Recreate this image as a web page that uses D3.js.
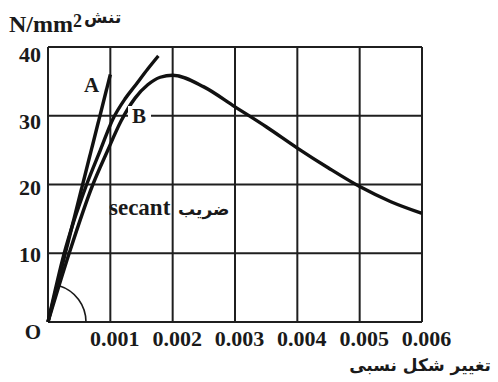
<!DOCTYPE html>
<html>
<head>
<meta charset="utf-8">
<script src="https://cdn.jsdelivr.net/npm/d3@7"></script>
<style>
  html, body { margin: 0; padding: 0; background: #fff; }
  svg { display: block; }
  .lat { font-family: "Liberation Serif", "Times New Roman", serif; font-weight: bold; fill: #1a1a1a; }
  .fa { font-family: "DejaVu Sans", sans-serif; font-weight: bold; fill: #1a1a1a; }
</style>
</head>
<body>
<script>
// Stress–strain diagram: initial tangent (A), secant curve (B) and the full curve.
const xTickValues = [0.001, 0.002, 0.003, 0.004, 0.005, 0.006];
const xTickLabels = ["0.001", "0.002", "0.003", "0.004", "0.005", "0.006"];
const yTickValues = [10, 20, 30, 40];
const yTickLabels = ["10", "20", "30", "40"];

// line A: initial tangent
const aStrain = [0, 0.001];
const aStress = [0, 36];

// upper curve
const upperStrain = [0, 0.00026, 0.00062, 0.00084, 0.00104, 0.00124, 0.0014, 0.0016, 0.00177];
const upperStress = [0, 10, 20, 25, 29.5, 32.5, 34.4, 36.8, 38.7];

// full stress–strain curve
const mainStrain = [0, 0.00034, 0.00072, 0.00095, 0.00117, 0.0014, 0.0016, 0.0018, 0.002,
                    0.0025, 0.003, 0.0035, 0.004, 0.0045, 0.005, 0.0055, 0.006];
const mainStress = [0, 10, 20, 24.8, 29.2, 32.6, 34.5, 35.6, 35.9,
                    34.2, 31.3, 28.4, 25.3, 22.4, 19.7, 17.5, 15.8];

const W = 498, H = 382;
const margin = { left: 48, top: 47, right: 76, bottom: 60 };

const svg = d3.select("body").append("svg").attr("width", W).attr("height", H);

const x = d3.scaleLinear().domain([0, 0.006]).range([margin.left, W - margin.right]);
const y = d3.scaleLinear().domain([0, 40]).range([H - margin.bottom, margin.top]);

const gridColor = "#1f1f1f";

// grid: vertical lines
svg.append("g").selectAll("line").data([0].concat(xTickValues)).join("line")
  .attr("x1", d => x(d)).attr("x2", d => x(d))
  .attr("y1", y(0)).attr("y2", y(40))
  .attr("stroke", gridColor).attr("stroke-width", 2);

// grid: horizontal lines
svg.append("g").selectAll("line").data([0].concat(yTickValues)).join("line")
  .attr("x1", x(0)).attr("x2", x(0.006))
  .attr("y1", d => y(d)).attr("y2", d => y(d))
  .attr("stroke", gridColor).attr("stroke-width", 2);

// x tick labels
svg.append("g").selectAll("text").data(xTickValues).join("text")
  .attr("class", "lat")
  .attr("x", d => x(d) + 4.5)
  .attr("y", y(0) + 24)
  .attr("text-anchor", "middle")
  .attr("font-size", 22)
  .text((d, i) => xTickLabels[i]);

// y tick labels
const yLab = d3.scaleLinear().domain([0, 40]).range([y(0) + 6, y(40) + 15]);
svg.append("g").selectAll("text").data(yTickValues).join("text")
  .attr("class", "lat")
  .attr("x", x(0) - 7)
  .attr("y", d => yLab(d))
  .attr("text-anchor", "end")
  .attr("font-size", 22)
  .text((d, i) => yTickLabels[i]);

// origin label
svg.append("text").attr("class", "lat")
  .attr("x", x(0) - 15).attr("y", y(0) + 17)
  .attr("text-anchor", "middle").attr("font-size", 21)
  .text("O");

// angle arc at the origin, up to the initial slope of the full curve
const theta = Math.atan2(y(0) - y(mainStress[1]), x(mainStrain[1]) - x(0));
const arcPath = d3.path();
arcPath.arc(x(0), y(0), 38, 0, -theta, true);
svg.append("path").attr("d", arcPath.toString())
  .attr("fill", "none").attr("stroke", "#1a1a1a").attr("stroke-width", 1.6);

const curve = d3.line().x(d => x(d[0])).y(d => y(d[1])).curve(d3.curveMonotoneX);

const drawCurve = (xs, ys) => svg.append("path")
  .attr("d", curve(d3.zip(xs, ys)))
  .attr("fill", "none").attr("stroke", "#111").attr("stroke-width", 3.4)
  .attr("stroke-linecap", "butt");

drawCurve(aStrain, aStress);
drawCurve(upperStrain, upperStress);
drawCurve(mainStrain, mainStress);

// curve labels
svg.append("text").attr("class", "lat")
  .attr("x", 84).attr("y", 92).attr("font-size", 21).text("A");

const bLabel = svg.append("text").attr("class", "lat")
  .attr("x", 132).attr("y", 123).attr("font-size", 21).text("B");
const bb = bLabel.node().getBBox();
svg.insert("rect", () => bLabel.node())
  .attr("x", bb.x - 4).attr("y", bb.y + 2).attr("width", bb.width + 9).attr("height", bb.height - 4)
  .attr("fill", "#fff");

svg.append("text").attr("class", "lat")
  .attr("x", 109).attr("y", 215).attr("font-size", 23).text("secant");
svg.append("text").attr("class", "fa")
  .attr("x", 178).attr("y", 215).attr("font-size", 17).attr("text-anchor", "start")
  .text("ضريب");

// axis titles
const yt = svg.append("text").attr("class", "lat").attr("x", 9).attr("y", 32).attr("font-size", 24);
yt.append("tspan").text("N/mm");
yt.append("tspan").attr("font-size", 18).attr("dy", -5).text("2");
svg.append("text").attr("class", "fa")
  .attr("x", 84).attr("y", 23).attr("font-size", 17).text("تنش");

svg.append("text").attr("class", "fa")
  .attr("x", 491).attr("y", 371).attr("text-anchor", "end").attr("font-size", 17)
  .text("تغيير شكل نسبى");
</script>
</body>
</html>
